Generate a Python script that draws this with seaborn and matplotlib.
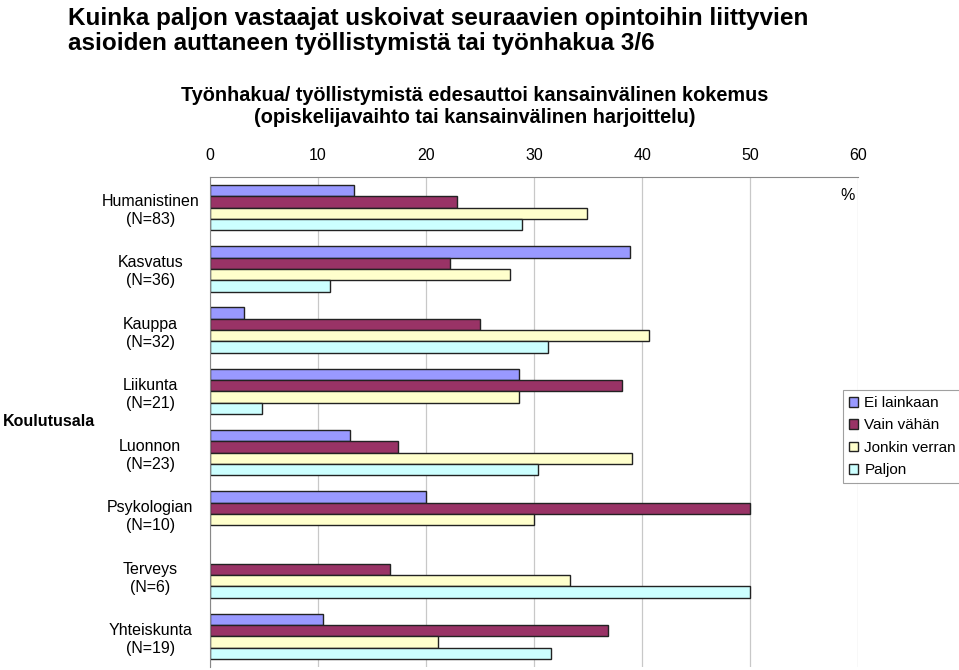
import matplotlib
matplotlib.use("Agg")
import matplotlib.pyplot as plt
import seaborn as sns
import pandas as pd
import numpy as np

categories = ["Humanistinen\n(N=83)", "Kasvatus\n(N=36)", "Kauppa\n(N=32)", "Liikunta\n(N=21)",
              "Luonnon\n(N=23)", "Psykologian\n(N=10)", "Terveys\n(N=6)", "Yhteiskunta\n(N=19)"]
series = ["Ei lainkaan", "Vain vähän", "Jonkin verran", "Paljon"]
ei_lainkaan = [13.3, 38.9, 3.1, 28.6, 13.0, 20.0, 0.0, 10.5]
vain_vahan = [22.9, 22.2, 25.0, 38.1, 17.4, 50.0, 16.7, 36.8]
jonkin_verran = [34.9, 27.8, 40.6, 28.6, 39.1, 30.0, 33.3, 21.1]
paljon = [28.9, 11.1, 31.3, 4.8, 30.4, 0.0, 50.0, 31.6]
colors = ["#9999FF", "#993366", "#FFFFCC", "#CCFFFF"]
x_ticks = [0, 10, 20, 30, 40, 50, 60]

rows = []
for s, vals in zip(series, [ei_lainkaan, vain_vahan, jonkin_verran, paljon]):
    for c, v in zip(categories, vals):
        rows.append({"Koulutusala": c, "Sarja": s, "Arvo": v})
df = pd.DataFrame(rows)

sns.set_style("white")
plt.rcParams["font.family"] = ["Liberation Sans", "DejaVu Sans"]
plt.rcParams["text.color"] = "black"
plt.rcParams["xtick.color"] = "black"
plt.rcParams["ytick.color"] = "black"
plt.rcParams["axes.labelcolor"] = "black"

fig = plt.figure(figsize=(9.59, 6.70), dpi=100)
ax = fig.add_axes([0.219, 0.0045, 0.676, 0.7313])

sns.barplot(data=df, y="Koulutusala", x="Arvo", hue="Sarja", palette=colors,
            orient="h", width=0.74, edgecolor="#222222", linewidth=1.0,
            saturation=1, ax=ax, legend=True)

# no outline for empty bars
for p in ax.patches:
    if p.get_width() == 0:
        p.set_linewidth(0)

ax.set_xlim(0, 60)
ax.set_ylim(len(categories) - 0.5, -0.5)
ax.set_xticks(x_ticks)
ax.xaxis.tick_top()
ax.tick_params(axis="x", length=0, pad=10, labelsize=11.5)
ax.grid(axis="x", color="#c8c8c8", linewidth=0.9)
ax.set_axisbelow(True)

ax.set_yticks(range(len(categories)))
ax.set_yticklabels(categories, ha="center", fontsize=11.5, linespacing=1.25)
ax.tick_params(axis="y", length=0, pad=43)
ax.set_yticks(np.arange(-0.5, len(categories), 1), minor=True)
ax.tick_params(axis="y", which="minor", length=4, color="#888888")

for side in ["right", "bottom"]:
    ax.spines[side].set_visible(False)
ax.spines["left"].set_color("#888888")
ax.spines["top"].set_color("#888888")

ax.set_xlabel("")
ax.set_ylabel("Koulutusala", fontsize=11.5, fontweight="bold")
ax.yaxis.set_label_coords(-0.249, 0.5)
ax.yaxis.label.set_rotation(0)
ax.yaxis.label.set_va("center")

ax.text(59, -0.2, "%", ha="center", va="center", fontsize=11.5)

leg = ax.legend(loc="upper left", bbox_to_anchor=(0.879, 0.418), bbox_transform=fig.transFigure,
                frameon=True, fancybox=False, edgecolor="#888888", fontsize=11,
                handlelength=0.6, handleheight=0.6, handletextpad=0.4, labelspacing=0.55,
                borderpad=0.4, borderaxespad=0)
leg.get_frame().set_linewidth(0.8)
for h in leg.legend_handles:
    h.set_edgecolor("#222222")
    h.set_linewidth(1.0)

fig.text(0.071, 0.99, "Kuinka paljon vastaajat uskoivat seuraavien opintoihin liittyvien\n"
         "asioiden auttaneen työllistymistä tai työnhakua 3/6",
         ha="left", va="top", fontsize=17.5, fontweight="bold", linespacing=1.12)
fig.text(0.495, 0.872, "Työnhakua/ työllistymistä edesauttoi kansainvälinen kokemus\n"
         "(opiskelijavaihto tai kansainvälinen harjoittelu)",
         ha="center", va="top", fontsize=14.3, fontweight="bold", linespacing=1.22)

fig.savefig("out.png", dpi=100)
